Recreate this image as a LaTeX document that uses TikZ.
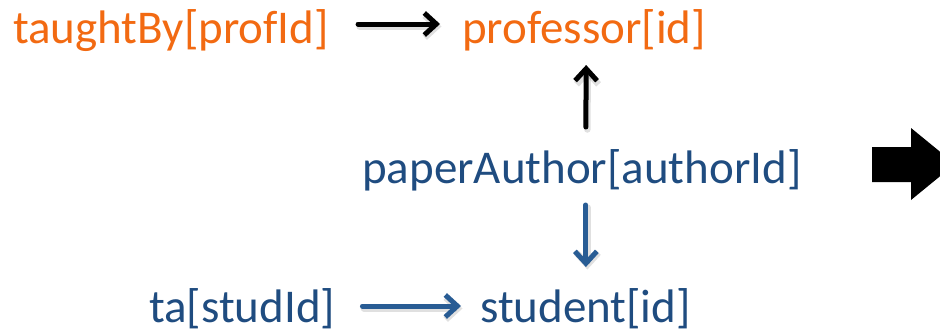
\documentclass[tikz,border=0pt]{standalone}
\usepackage{fontspec}
\setmainfont{Carlito}
\usetikzlibrary{arrows.meta}
\definecolor{relorange}{RGB}{242,106,18}
\definecolor{relblue}{RGB}{31,76,128}
\definecolor{linkblue}{RGB}{40,92,148}
\tikzset{
  lbl/.style={inner sep=0pt, anchor=base west, font=\fontsize{47}{56}\selectfont},
  fk/.style={-{Straight Barb[length=12pt,width=22pt]}, line width=5pt, line cap=round},
  fkshadow/.style={fk, draw=black, opacity=0.12, line width=6.5pt, transform canvas={shift={(1.5pt,-2.5pt)}}},
}
\begin{document}
\begin{tikzpicture}[x=1pt,y=-1pt]
  \useasboundingbox (0,0) rectangle (940,332);
  \clip (0,0) rectangle (940,332);

  % relations with their key attributes
  \node[lbl, text=relorange] (tb)   at (13,43)  {taughtBy[profId]};
  \node[lbl, text=relorange] (prof) at (462,43) {professor[id]};
  \node[lbl, text=relblue]   (pa)   at (362,183) {paperAuthor[authorId]};
  \node[lbl, text=relblue]   (ta)   at (149,322) {ta[studId]};
  \node[lbl, text=relblue]   (stu)  at (480,322) {student[id]};

  % soft shadows under the connectors
  \draw[fkshadow] ([xshift=29pt,yshift=19pt]tb.base east) -- ([xshift=-22pt,yshift=19pt]prof.base west);
  \draw[fkshadow] ([xshift=4pt,yshift=56pt]pa.base) -- ([xshift=2pt,yshift=-22pt]prof.base);
  \draw[fkshadow] ([xshift=4pt,yshift=-22pt]pa.base) -- ([xshift=4pt,yshift=55pt]pa.base |- stu.base);
  \draw[fkshadow] ([xshift=27pt,yshift=16pt]ta.base east) -- ([xshift=-19pt,yshift=16pt]stu.base west);

  % foreign key connectors
  \draw[fk, draw=black] ([xshift=29pt,yshift=19pt]tb.base east) -- ([xshift=-22pt,yshift=19pt]prof.base west);
  \draw[fk, draw=black] ([xshift=4pt,yshift=56pt]pa.base) -- ([xshift=2pt,yshift=-22pt]prof.base);
  \draw[fk, draw=linkblue] ([xshift=4pt,yshift=-22pt]pa.base) -- ([xshift=4pt,yshift=55pt]pa.base |- stu.base);
  \draw[fk, draw=linkblue] ([xshift=27pt,yshift=16pt]ta.base east) -- ([xshift=-19pt,yshift=16pt]stu.base west);

  % block arrow at the right edge
  \fill[black] (872,147) -- (911,147) -- (911,128) -- (955,164) -- (911,200)
               -- (911,182) -- (872,182) -- cycle;
\end{tikzpicture}
\end{document}
